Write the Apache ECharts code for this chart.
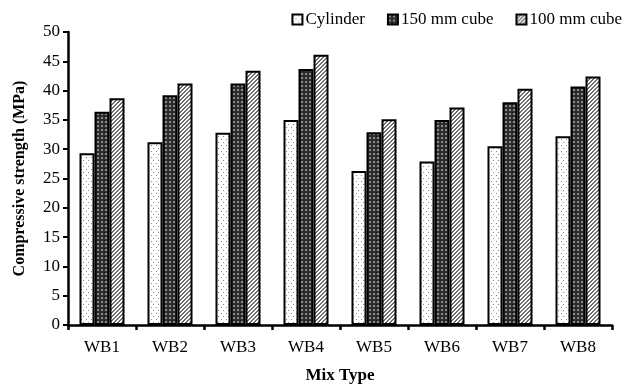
<!DOCTYPE html>
<html>
<head>
<meta charset="utf-8">
<script src="https://cdn.jsdelivr.net/npm/echarts@6/dist/echarts.min.js"></script>
<style>
html,body{margin:0;padding:0;background:#fff;}
#chart{width:629px;height:385px;}
</style>
</head>
<body>
<div id="chart"></div>
<script>
var categories = ['WB1', 'WB2', 'WB3', 'WB4', 'WB5', 'WB6', 'WB7', 'WB8'];
var seriesNames = ['Cylinder', '150 mm cube', '100 mm cube'];
var cylinder = [29.3, 31.2, 32.8, 35.0, 26.3, 27.9, 30.5, 32.2];
var cube150 = [36.4, 39.2, 41.2, 43.7, 32.9, 35.0, 38.0, 40.7];
var cube100 = [38.7, 41.2, 43.4, 46.1, 35.1, 37.1, 40.3, 42.4];

// fill patterns drawn on small canvases
function makePattern(kind) {
    var c = document.createElement('canvas');
    var ctx = c.getContext('2d');
    if (kind === 'dots') {
        c.width = 5; c.height = 6;
        ctx.fillStyle = '#fff';
        ctx.fillRect(0, 0, 5, 6);
        ctx.fillStyle = '#8a8a8a';
        ctx.fillRect(1, 1, 1, 1);
        ctx.fillRect(3, 4, 1, 1);
    } else if (kind === 'check') {
        c.width = 4; c.height = 4;
        ctx.fillStyle = '#2e2e2e';
        ctx.fillRect(0, 0, 4, 4);
        ctx.fillStyle = '#8a8a8a';
        ctx.fillRect(1, 1, 2, 2);
        ctx.fillStyle = '#1a1a1a';
        ctx.fillRect(0, 0, 1, 1);
    } else {
        c.width = 4; c.height = 4;
        ctx.fillStyle = '#fff';
        ctx.fillRect(0, 0, 4, 4);
        ctx.fillStyle = '#6e6e6e';
        for (var i = 0; i < 4; i++) {
            ctx.fillRect(3 - i, i, 1, 1);
            ctx.fillRect((3 - i + 1) % 4, i, 1, 1);
        }
    }
    return {image: c, repeat: 'repeat'};
}

var fills = [makePattern('dots'), makePattern('check'), makePattern('hatch')];
var values = [cylinder, cube150, cube100];
var font = '"Liberation Serif", "Times New Roman", serif';

var myChart = echarts.init(document.getElementById('chart'));
var option = {
    animation: false,
    textStyle: {fontFamily: font},
    legend: {
        top: 6,
        right: 2,
        icon: 'rect',
        itemWidth: 10,
        itemHeight: 10,
        itemGap: 22,
        textStyle: {fontFamily: font, fontSize: 17, color: '#000', padding: [0, 0, 0, -2]},
        data: seriesNames
    },
    grid: {left: 68, right: 17, top: 32, bottom: 60, outerBoundsMode: 'none', containLabel: false},
    xAxis: {
        type: 'category',
        data: categories,
        name: 'Mix Type',
        nameLocation: 'middle',
        nameGap: 42,
        nameTextStyle: {fontFamily: font, fontSize: 17, fontWeight: 'bold', color: '#000'},
        axisLine: {lineStyle: {color: '#000', width: 2.5}},
        axisTick: {show: true, length: 5, lineStyle: {color: '#000', width: 2.5}},
        axisLabel: {fontFamily: font, fontSize: 17, color: '#000', margin: 14}
    },
    yAxis: {
        type: 'value',
        min: 0,
        max: 50,
        interval: 5,
        name: 'Compressive strength (MPa)',
        nameLocation: 'middle',
        nameGap: 40,
        nameTextStyle: {fontFamily: font, fontSize: 16, fontWeight: 'bold', color: '#000'},
        splitLine: {show: false},
        axisLine: {show: true, lineStyle: {color: '#000', width: 2.5}},
        axisTick: {show: true, length: 5, lineStyle: {color: '#000', width: 2}},
        axisLabel: {fontFamily: font, fontSize: 17, color: '#000', margin: 8}
    },
    series: seriesNames.map(function (n, i) {
        return {
            name: n,
            type: 'bar',
            data: values[i],
            barWidth: 15,
            barGap: '0%',
            itemStyle: {color: fills[i], borderColor: '#000', borderWidth: 2}
        };
    })
};
myChart.setOption(option);
</script>
</body>
</html>
